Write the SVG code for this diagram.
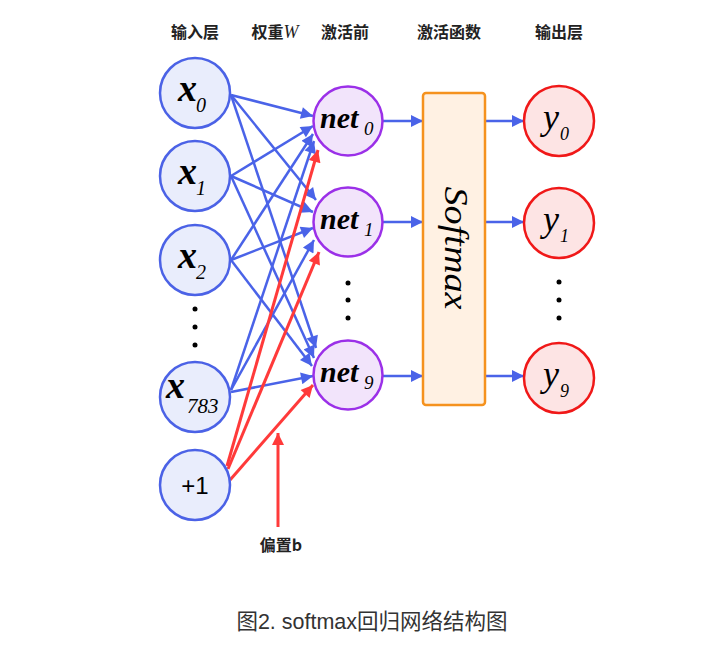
<svg xmlns="http://www.w3.org/2000/svg" width="709" height="647" viewBox="0 0 709 647">
<style>
.hdr{font-family:"Noto Sans CJK SC","Liberation Sans",sans-serif;font-size:16px;font-weight:bold;fill:#222;text-anchor:middle}
.in{fill:#e9edfc;stroke:#4b62e6;stroke-width:2.5}
.net{fill:#f2e4fb;stroke:#9b30e8;stroke-width:2.5}
.out{fill:#fde4e4;stroke:#f01818;stroke-width:2.5}
.mx{font-family:"Liberation Serif","DejaVu Serif",serif;font-style:italic;fill:#000}
.b{font-weight:bold}
.blue{stroke:#4a63e8;stroke-width:2.5;fill:none;marker-end:url(#ab)}
.red{stroke:#ff3a3a;stroke-width:3;fill:none;marker-end:url(#ar)}
.dot{fill:#000}
</style>
<defs>
<marker id="ab" viewBox="0 0 10 10" refX="10" refY="5" markerUnits="userSpaceOnUse" markerWidth="15" markerHeight="12" orient="auto"><path d="M0,0 L10,5 L0,10 z" fill="#4a63e8"/></marker>
<marker id="ar" viewBox="0 0 10 10" refX="10" refY="5" markerUnits="userSpaceOnUse" markerWidth="15" markerHeight="12" orient="auto"><path d="M0,0 L10,5 L0,10 z" fill="#ff3a3a"/></marker>
</defs>
<rect width="709" height="647" fill="#fff"/>
<g id="headers">
<text class="hdr" x="195" y="38">输入层</text>
<text class="hdr" x="275" y="38">权重<tspan font-family="Liberation Serif,serif" font-style="italic" font-weight="normal" font-size="18">W</tspan></text>
<text class="hdr" x="345" y="38">激活前</text>
<text class="hdr" x="449" y="38">激活函数</text>
<text class="hdr" x="559" y="38">输出层</text>
</g>
<g id="connectors">
<line class="blue" x1="231" y1="95" x2="313" y2="116"/>
<line class="blue" x1="231" y1="95" x2="316" y2="200"/>
<line class="blue" x1="231" y1="95" x2="316" y2="348"/>
<line class="blue" x1="231" y1="176" x2="313" y2="126"/>
<line class="blue" x1="231" y1="176" x2="313" y2="212"/>
<line class="blue" x1="231" y1="176" x2="314" y2="358"/>
<line class="blue" x1="231" y1="260" x2="313" y2="134"/>
<line class="blue" x1="231" y1="260" x2="313" y2="228"/>
<line class="blue" x1="231" y1="260" x2="312" y2="366"/>
<line class="blue" x1="231" y1="390" x2="314" y2="141"/>
<line class="blue" x1="231" y1="390" x2="314" y2="240"/>
<line class="blue" x1="231" y1="392" x2="313" y2="376"/>
<line class="red" x1="227" y1="466" x2="318" y2="150"/>
<line class="red" x1="228" y1="469" x2="319" y2="252"/>
<line class="red" x1="230" y1="480" x2="313" y2="385"/>
<line class="red" x1="278" y1="527" x2="278" y2="433"/>
<line class="blue" x1="383" y1="121" x2="423" y2="121"/>
<line class="blue" x1="383" y1="222" x2="423" y2="222"/>
<line class="blue" x1="383" y1="376" x2="423" y2="376"/>
<line class="blue" x1="485" y1="121" x2="524" y2="121"/>
<line class="blue" x1="485" y1="222" x2="524" y2="222"/>
<line class="blue" x1="485" y1="376" x2="524" y2="376"/>
</g>
<g id="x0"><circle class="in" cx="195" cy="93" r="35"/><text class="mx b" x="178" y="101" font-size="38">x</text><text class="mx" x="196" y="112" font-size="20">0</text></g>
<g id="x1"><circle class="in" cx="195" cy="176" r="35"/><text class="mx b" x="178" y="184" font-size="38">x</text><text class="mx" x="196" y="195" font-size="20">1</text></g>
<g id="x2"><circle class="in" cx="195" cy="260" r="35"/><text class="mx b" x="178" y="268" font-size="38">x</text><text class="mx" x="196" y="279" font-size="20">2</text></g>
<g id="dots-in"><circle class="dot" cx="195" cy="309" r="2.5"/><circle class="dot" cx="195" cy="327" r="2.5"/><circle class="dot" cx="195" cy="345" r="2.5"/></g>
<g id="x783"><circle class="in" cx="195" cy="397" r="35"/><text class="mx b" x="166" y="398" font-size="38">x</text><text class="mx" x="187" y="413" font-size="21">783</text></g>
<g id="bias"><circle class="in" cx="195" cy="485" r="35"/><text x="195" y="494" font-family="Liberation Sans,Arial,sans-serif" font-size="24" text-anchor="middle" fill="#000">+1</text></g>
<g id="net0"><circle class="net" cx="348" cy="121" r="34.5"/><text class="mx b" x="320" y="128" font-size="30">net</text><text class="mx" x="364" y="135" font-size="19">0</text></g>
<g id="net1"><circle class="net" cx="348" cy="222" r="34.5"/><text class="mx b" x="320" y="229" font-size="30">net</text><text class="mx" x="364" y="236" font-size="19">1</text></g>
<g id="dots-net"><circle class="dot" cx="348" cy="283" r="2.5"/><circle class="dot" cx="348" cy="300" r="2.5"/><circle class="dot" cx="348" cy="318" r="2.5"/></g>
<g id="net9"><circle class="net" cx="348" cy="375" r="34.5"/><text class="mx b" x="320" y="382" font-size="30">net</text><text class="mx" x="364" y="389" font-size="19">9</text></g>
<g id="softmax"><rect x="423" y="93" width="62" height="312" rx="3" fill="#fff1e3" stroke="#f5921e" stroke-width="2.5"/><text class="mx" transform="translate(445 248) rotate(90)" text-anchor="middle" font-size="34" textLength="123" lengthAdjust="spacingAndGlyphs">Softmax</text></g>
<g id="y0"><circle class="out" cx="559" cy="121" r="35"/><text class="mx" x="543" y="129" font-size="36">y</text><text class="mx" x="560" y="140" font-size="18">0</text></g>
<g id="y1"><circle class="out" cx="559" cy="223" r="35"/><text class="mx" x="543" y="231" font-size="36">y</text><text class="mx" x="560" y="242" font-size="18">1</text></g>
<g id="dots-out"><circle class="dot" cx="559" cy="282" r="2.5"/><circle class="dot" cx="559" cy="300" r="2.5"/><circle class="dot" cx="559" cy="318" r="2.5"/></g>
<g id="y9"><circle class="out" cx="559" cy="378" r="35"/><text class="mx" x="543" y="386" font-size="36">y</text><text class="mx" x="560" y="397" font-size="18">9</text></g>
<g id="bias-label"><text class="hdr" x="281" y="551">偏置b</text></g>
<g id="caption"><text x="372" y="629" font-family="Liberation Sans,'Noto Sans CJK SC',sans-serif" font-size="21.5" text-anchor="middle" fill="#333">图2. softmax回归网络结构图</text></g>
</svg>
